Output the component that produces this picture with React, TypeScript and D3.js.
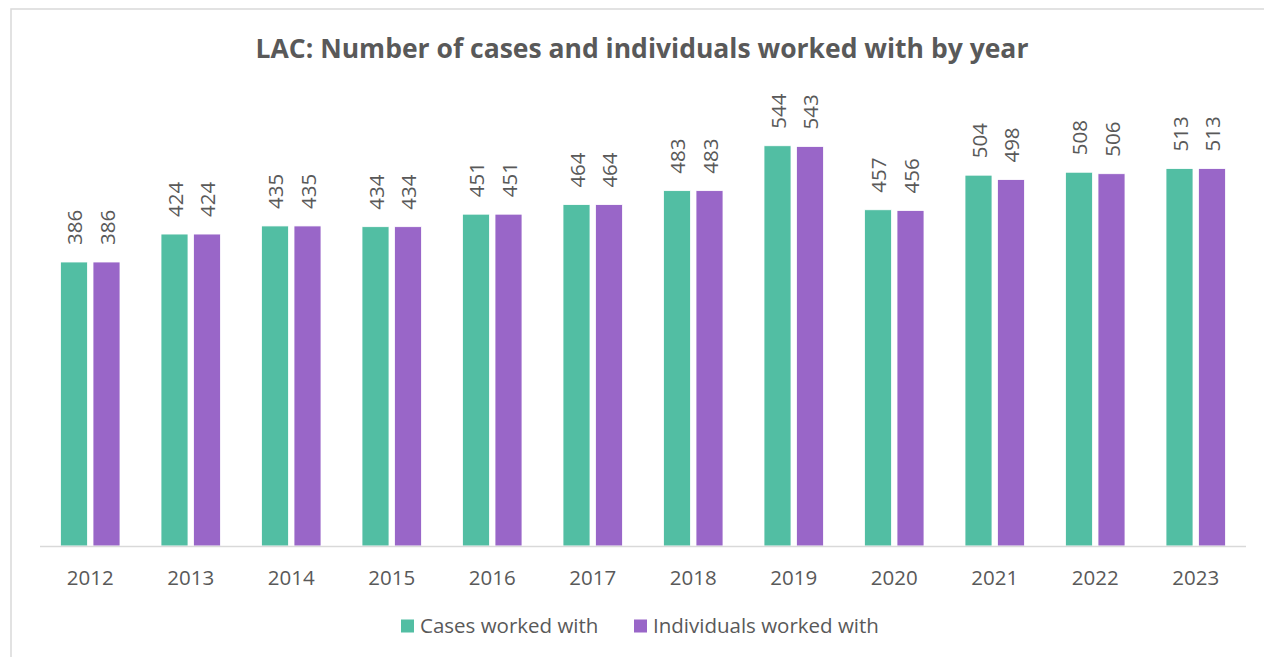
import React from "react";
import * as d3 from "d3";

const years = ["2012","2013","2014","2015","2016","2017","2018","2019","2020","2021","2022","2023"];
const cases = [386,424,435,434,451,464,483,544,457,504,508,513];
const individuals = [386,424,435,434,451,464,483,543,456,498,506,513];
const seriesNames = ["Cases worked with", "Individuals worked with"];
const colors = ["#52BEA3", "#9966C8"];
const title = "LAC: Number of cases and individuals worked with by year";

export default function App() {
  const W = 1264, H = 657;
  const x0 = 40, x1 = 1246, baseY = 546;
  const font = "'Open Sans', 'Noto Sans', sans-serif";
  const textColor = "#595959";
  const x = d3.scaleBand<string>().domain(years).range([x0, x1]).paddingInner(0).paddingOuter(0);
  const y = d3.scaleLinear().domain([0, 600]).range([baseY, baseY - 600 * (284 / 386)]);
  const bw = 27;
  const gap = 5.5;
  const series = [cases, individuals];
  return (
    <svg width={W} height={H} style={{ position: "absolute", left: 0, top: 0, background: "#fff" }} fontFamily={font}>
      <rect x={11} y={9} width={1300} height={700} fill="#fff" stroke="#d9d9d9" strokeWidth={1.5} />
      <text x={642} y={58} textAnchor="middle" fontSize={26.5} fontWeight={700} fill={textColor}>{title}</text>
      {years.map((yr) => {
        const c = x(yr)! + x.bandwidth() / 2;
        return (
          <g key={yr}>
            {series.map((vals, si) => {
              const v = vals[years.indexOf(yr)];
              const bx = si === 0 ? c - gap / 2 - bw : c + gap / 2;
              const top = y(v);
              return (
                <g key={si}>
                  <rect x={bx} y={top} width={bw} height={baseY - top} fill={colors[si]} stroke="#fff" strokeWidth={0.8} />
                  <text transform={`translate(${bx + bw / 2},${top - 17}) rotate(-90)`} dominantBaseline="central" fontSize={20.5} fill={textColor}>{v}</text>
                </g>
              );
            })}
            <text x={c} y={585} textAnchor="middle" fontSize={20.5} fill={textColor}>{yr}</text>
          </g>
        );
      })}
      <line x1={x0} x2={x1} y1={baseY + 0.5} y2={baseY + 0.5} stroke="#d9d9d9" strokeWidth={1.5} />
      {seriesNames.map((n, i) => {
        const lx = i === 0 ? 401 : 634;
        return (
          <g key={n}>
            <rect x={lx} y={619.5} width={13} height={13} fill={colors[i]} />
            <text x={lx + 19} y={633} fontSize={20.5} fill={textColor}>{n}</text>
          </g>
        );
      })}
    </svg>
  );
}
